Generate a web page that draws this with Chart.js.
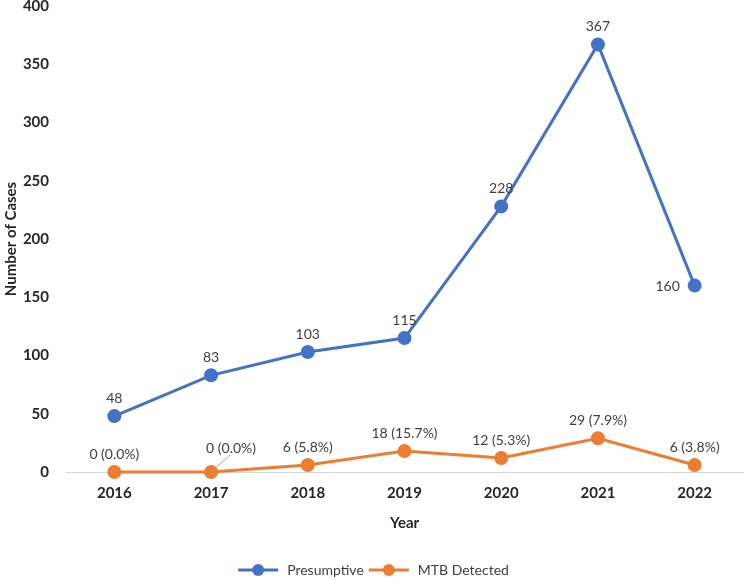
<!DOCTYPE html>
<html>
<head>
<meta charset="utf-8">
<script src="https://cdn.jsdelivr.net/npm/chart.js@4"></script>
<style>
  html, body { margin: 0; padding: 0; background: #fff; }
  #wrap { width: 746px; height: 580px; }
</style>
</head>
<body>
<div id="wrap"><canvas id="myLineChart"></canvas></div>
<script>
var years = ['2016', '2017', '2018', '2019', '2020', '2021', '2022'];
var presumptive = [48, 83, 103, 115, 228, 367, 160];
var mtbDetected = [0, 0, 6, 18, 12, 29, 6];
var mtbPercent = ['0.0', '0.0', '5.8', '15.7', '5.3', '7.9', '3.8'];
var yTicks = [0, 50, 100, 150, 200, 250, 300, 350, 400];

var blue = '#4472C4';
var orange = '#ED7D31';
var fontName = 'Lato, "Open Sans", sans-serif';

// little legend symbol: a line with a dot in the middle
function legendSymbol(color) {
  var c = document.createElement('canvas');
  c.width = 44;
  c.height = 14;
  var g = c.getContext('2d');
  g.strokeStyle = color;
  g.lineWidth = 3;
  g.beginPath();
  g.moveTo(2, 7);
  g.lineTo(42, 7);
  g.stroke();
  g.fillStyle = color;
  g.beginPath();
  g.arc(22, 7, 6, 0, Math.PI * 2);
  g.fill();
  return c;
}

var pointLabels = {
  id: 'pointLabels',
  afterDatasetsDraw: function (chart) {
    var ctx = chart.ctx;
    ctx.save();
    ctx.font = '14px ' + fontName;
    ctx.fillStyle = '#404040';
    ctx.textAlign = 'center';
    ctx.textBaseline = 'bottom';

    chart.getDatasetMeta(0).data.forEach(function (pt, i) {
      var txt = String(presumptive[i]);
      if (i === years.length - 1) {
        ctx.fillText(txt, pt.x - 27, pt.y + 8);
      } else {
        ctx.fillText(txt, pt.x, pt.y - 11);
      }
    });

    chart.getDatasetMeta(1).data.forEach(function (pt, i) {
      var txt = mtbDetected[i] + ' (' + mtbPercent[i] + '%)';
      if (i === 1) {
        // this one sits up-right with a leader line
        ctx.strokeStyle = '#a6a6a6';
        ctx.lineWidth = 1;
        ctx.beginPath();
        ctx.moveTo(pt.x + 2, pt.y - 2);
        ctx.lineTo(pt.x + 19, pt.y - 17);
        ctx.stroke();
        ctx.fillText(txt, pt.x + 20, pt.y - 17);
      } else {
        ctx.fillText(txt, pt.x, pt.y - 11);
      }
    });
    ctx.restore();
  }
};

var ctx = document.getElementById('myLineChart').getContext('2d');

window.myLineChart = new Chart(ctx, {
  type: 'line',
  data: {
    labels: years,
    datasets: [{
      label: 'Presumptive',
      data: presumptive,
      borderColor: blue,
      backgroundColor: blue,
      borderWidth: 3,
      pointRadius: 5.5,
      pointHoverRadius: 5.5,
      tension: 0
    }, {
      label: 'MTB Detected',
      data: mtbDetected,
      borderColor: orange,
      backgroundColor: orange,
      borderWidth: 3,
      pointRadius: 5.5,
      pointHoverRadius: 5.5,
      tension: 0
    }]
  },
  options: {
    responsive: true,
    maintainAspectRatio: false,
    animation: false,
    clip: false,
    layout: { autoPadding: false, padding: { left: 2, right: 3, top: 0, bottom: -7 } },
    plugins: {
      tooltip: { enabled: false },
      legend: {
        position: 'bottom',
        labels: {
          usePointStyle: true,
          pointStyleWidth: 44,
          padding: 3,
          color: '#404040',
          font: { family: fontName, size: 14 },
          generateLabels: function (chart) {
            return chart.data.datasets.map(function (ds, i) {
              return {
                text: ds.label,
                pointStyle: legendSymbol(ds.borderColor),
                fillStyle: ds.borderColor,
                strokeStyle: ds.borderColor,
                lineWidth: 0,
                fontColor: '#404040',
                datasetIndex: i
              };
            });
          }
        }
      }
    },
    scales: {
      x: {
        offset: true,
        grid: { display: false, drawTicks: false, tickLength: 0 },
        border: { display: true, color: '#d9d9d9', width: 1 },
        ticks: {
          color: '#262626',
          font: { family: fontName, size: 15, weight: 'bold' },
          padding: 12
        },
        title: {
          display: true,
          text: 'Year',
          color: '#262626',
          font: { family: fontName, size: 15, weight: 'bold' },
          padding: { top: 0, bottom: 28 }
        }
      },
      y: {
        min: 0,
        max: 400,
        afterBuildTicks: function (axis) {
          axis.ticks = yTicks.map(function (v) { return { value: v }; });
        },
        afterFit: function (axis) {
          axis.width = 64;
          axis.paddingTop = 6;
          axis.paddingBottom = 0;
        },
        grid: { display: false, drawTicks: false, tickLength: 0 },
        border: { display: false },
        ticks: {
          color: '#262626',
          font: { family: fontName, size: 15, weight: 'bold' },
          padding: 17
        },
        title: {
          display: true,
          text: 'Number of Cases',
          color: '#262626',
          font: { family: fontName, size: 15, weight: 'bold' },
          padding: { top: 0, bottom: 2 }
        }
      }
    }
  },
  plugins: [pointLabels]
});
</script>
</body>
</html>
